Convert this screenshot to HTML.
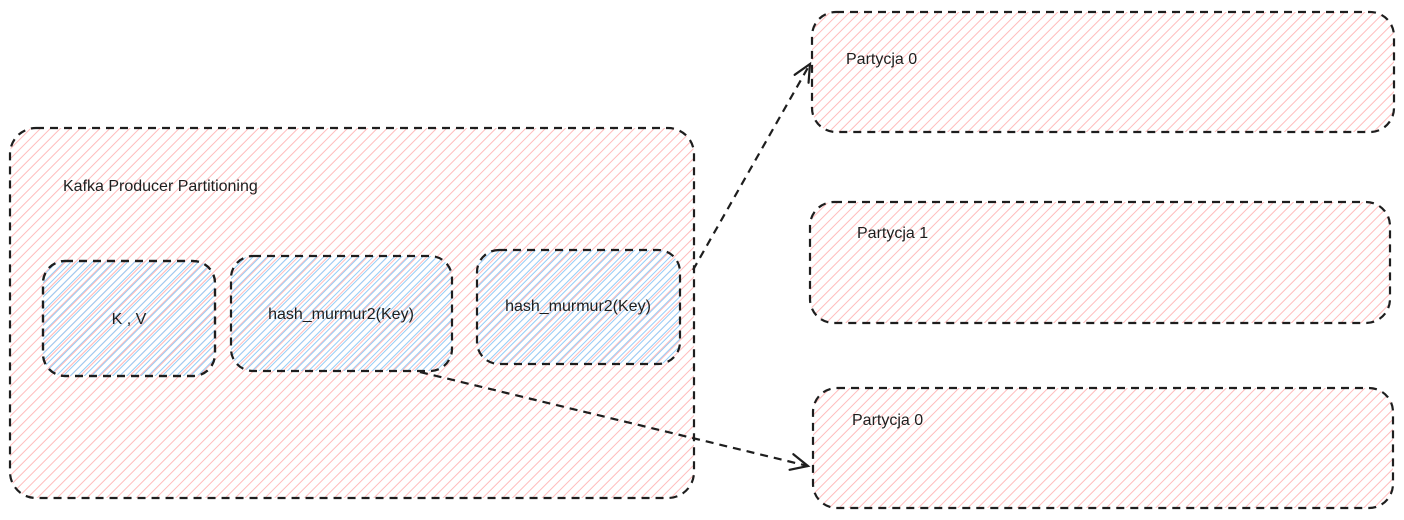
<!DOCTYPE html>
<html><head><meta charset="utf-8"><style>
html,body{margin:0;padding:0;background:#fff;width:1404px;height:520px;overflow:hidden}
text{font-family:"Liberation Sans",sans-serif;font-size:16px;fill:#1e1e1e}
</style></head><body>
<svg width="1404" height="520" viewBox="0 0 1404 520" xmlns="http://www.w3.org/2000/svg">
<defs>
<pattern id="red" patternUnits="userSpaceOnUse" width="7" height="7" patternTransform="rotate(45)">
<line x1="0" y1="0" x2="0" y2="7" stroke="#ffbcbc" stroke-width="2"/>
</pattern>
<pattern id="blue" patternUnits="userSpaceOnUse" width="5" height="5" patternTransform="rotate(45)">
<line x1="0" y1="0" x2="0" y2="5" stroke="#94cdf8" stroke-width="2"/>
</pattern>
<marker id="ah" markerWidth="24" markerHeight="24" refX="20" refY="12" orient="auto" markerUnits="userSpaceOnUse">
<path d="M3,4 L20,12 L3,20" fill="none" stroke="#1e1e1e" stroke-width="2.2" stroke-linecap="round"/>
</marker>
</defs>
<g stroke="#1e1e1e" stroke-width="2.2" stroke-dasharray="8 6">
<rect x="10" y="128" width="684" height="370" rx="26" fill="url(#red)"/>
<rect x="43" y="261" width="172" height="115" rx="22" fill="url(#red)"/>
<rect x="43" y="261" width="172" height="115" rx="22" fill="url(#blue)"/>
<rect x="231" y="256" width="221" height="115" rx="22" fill="url(#blue)"/>
<rect x="477" y="250" width="203" height="114" rx="22" fill="url(#blue)"/>
<rect x="812" y="12" width="582" height="120" rx="24" fill="url(#red)"/>
<rect x="810" y="202" width="580" height="121" rx="24" fill="url(#red)"/>
<rect x="813" y="388" width="580" height="120" rx="24" fill="url(#red)"/>
<path d="M693,270 L810,64" fill="none" marker-end="url(#ah)"/>
<path d="M420,372 L808,466" fill="none" marker-end="url(#ah)"/>
</g>
<text x="63" y="191" font-size="17">Kafka Producer Partitioning</text>
<text x="129" y="324" text-anchor="middle">K , V</text>
<text x="341" y="319" text-anchor="middle">hash_murmur2(Key)</text>
<text x="578" y="311" text-anchor="middle">hash_murmur2(Key)</text>
<text x="846" y="64">Partycja 0</text>
<text x="857" y="238">Partycja 1</text>
<text x="852" y="425">Partycja 0</text>
</svg>
</body></html>
